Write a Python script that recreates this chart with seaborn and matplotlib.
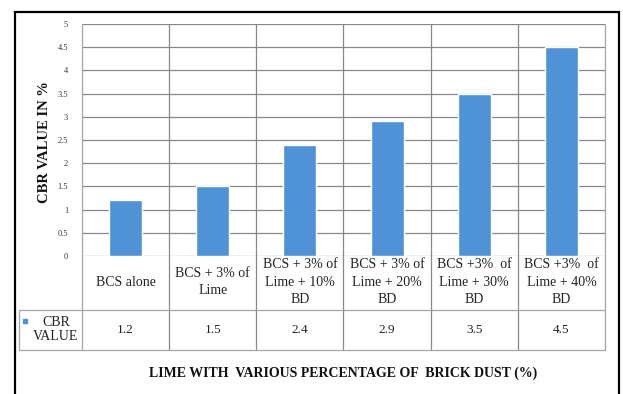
import matplotlib
matplotlib.use("Agg")
import matplotlib.pyplot as plt
from matplotlib.lines import Line2D
from matplotlib.patches import Rectangle
import seaborn as sns
import pandas as pd

categories = [
    "BCS alone",
    "BCS + 3% of\nLime",
    "BCS + 3% of\nLime + 10%\nBD",
    "BCS + 3% of\nLime + 20%\nBD",
    "BCS +3%  of\nLime + 30%\nBD",
    "BCS +3%  of\nLime + 40%\nBD",
]
cbr_values = [1.2, 1.5, 2.4, 2.9, 3.5, 4.5]
value_labels = ["1.2", "1.5", "2.4", "2.9", "3.5", "4.5"]
y_ticks = [0, 0.5, 1, 1.5, 2, 2.5, 3, 3.5, 4, 4.5, 5]
y_tick_labels = ["0", "0.5", "1", "1.5", "2", "2.5", "3", "3.5", "4", "4.5", "5"]
series_name = "CBR\nVALUE"
y_title = "CBR VALUE IN %"
x_title = "LIME WITH  VARIOUS PERCENTAGE OF  BRICK DUST (%)"

sns.set_theme(style="white")
plt.rcParams["font.family"] = ["Liberation Serif", "DejaVu Serif"]

W, H = 623, 394
fig = plt.figure(figsize=(W / 100, H / 100), dpi=100)
fig.patch.set_facecolor("white")

# axes box in pixel units
ax_l, ax_r, ax_t, ax_b = 82, 605, 24, 256
ax = fig.add_axes([ax_l / W, 1 - ax_b / H, (ax_r - ax_l) / W, (ax_b - ax_t) / H])

df = pd.DataFrame({"cat": categories, "val": cbr_values})
bar_color = "#4F92D6"
sns.barplot(data=df, x="cat", y="val", color=bar_color, width=0.38,
            saturation=1, ax=ax, zorder=3)

grid_c = "#888888"
txt_c = "#222222"
ax.set_ylim(0, 5)
ax.set_xlim(-0.5, len(categories) - 0.5)
ax.set_yticks(y_ticks)
ax.set_yticklabels(y_tick_labels, fontsize=6, color="#333333")
ax.tick_params(axis="y", length=0, pad=10)
ax.set_xticks([])
ax.set_xlabel("")
ax.set_ylabel("")
for yv in y_ticks:
    ax.axhline(yv, color=grid_c, lw=0.9, zorder=1)
for s in ax.spines.values():
    s.set_visible(False)

# px -> axes fraction helpers
def fx(px):
    return (px - ax_l) / (ax_r - ax_l)

def fy(py):
    return (ax_b - py) / (ax_b - ax_t)

row1_bot = 310
row2_bot = 350
tbl_c = "#a6a6a6"

# vertical category dividers running through the data table
for i in range(len(categories) + 1):
    ax.axvline(i - 0.5, ymin=fy(row2_bot), ymax=1,
               color=grid_c if i not in (0, len(categories)) else tbl_c,
               lw=0.9, clip_on=False, zorder=1)

# table horizontal rules
for py in (row1_bot, row2_bot):
    ax.add_line(Line2D([fx(19), 1], [fy(py), fy(py)], transform=ax.transAxes,
                       color=tbl_c, lw=0.9, clip_on=False))
ax.add_line(Line2D([fx(19), fx(19)], [fy(row1_bot), fy(row2_bot)], transform=ax.transAxes,
                   color=tbl_c, lw=0.9, clip_on=False))

# category names and values
trans = ax.get_xaxis_transform()
for i, (c, v) in enumerate(zip(categories, value_labels)):
    ax.text(i, fy(282), c, transform=trans, ha="center", va="center",
            fontsize=10, linespacing=1.45, color=txt_c)
    ax.text(i, fy((row1_bot + row2_bot) / 2), v, transform=trans, ha="center", va="center",
            fontsize=9.5, color=txt_c)

# series label with legend key
ax.add_patch(Rectangle((fx(23), fy(323)), 4 / (ax_r - ax_l), 4 / (ax_b - ax_t),
                       transform=ax.transAxes, color=bar_color, clip_on=False))
ax.text(fx(56), fy(330), series_name, transform=ax.transAxes, ha="center", va="center",
        fontsize=10, linespacing=1.1, color=txt_c)

# axis titles
fig.text(44 / W, 1 - 142 / H, y_title, rotation=90, ha="center", va="center",
         fontsize=10.5, fontweight="bold", color="#111111")
fig.text((ax_l + ax_r) / 2 / W, 1 - 373 / H, x_title, ha="center", va="center",
         fontsize=10, fontweight="bold", color="#111111")

# outer frame
fig.add_artist(Rectangle((14.5 / W, -0.05), (619 - 14.5) / W, 1.05 - 12.5 / H,
                         transform=fig.transFigure, fill=False, ec="black", lw=1.6))

fig.savefig("out.png", dpi=100, facecolor="white")
